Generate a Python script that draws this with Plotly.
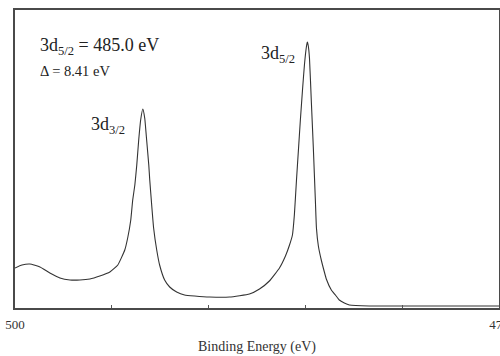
import plotly.graph_objects as go

# Binding energy (eV) and intensity (arb. units)
energy = [500.00, 499.64, 499.23, 498.71, 498.20, 497.68, 497.16, 496.65, 496.13, 495.62,
          495.10, 494.69, 494.33, 494.18, 494.02, 493.92, 493.81, 493.71, 493.61, 493.51,
          493.40, 493.30, 493.20, 493.09, 493.04, 492.94, 492.84, 492.68, 492.53, 492.27,
          492.01, 491.65, 491.24, 490.72, 489.95, 488.92, 487.89, 487.37, 486.86, 486.34,
          486.03, 485.82, 485.67, 485.57, 485.46, 485.36, 485.26, 485.15, 485.05, 484.95,
          484.90, 484.85, 484.79, 484.69, 484.59, 484.54, 484.48, 484.43, 484.33, 484.18,
          484.02, 483.92, 483.66, 483.45, 483.25, 482.99, 482.73, 481.70, 480.15, 477.58,
          475.00]
intensity = [40, 43, 44, 41, 35, 30, 28, 28, 29, 32,
             36, 43, 58, 70, 88, 108, 123, 143, 168, 188,
             199, 190, 168, 143, 128, 103, 80, 58, 43, 28,
             21, 16, 13, 12, 11, 11, 14, 19, 27, 40,
             52, 63, 73, 93, 128, 158, 188, 218, 243, 261,
             266, 262, 250, 205, 160, 135, 105, 80, 62, 48,
             36, 29, 18, 13, 8, 5, 3, 2, 2, 2,
             2]

tick_vals = [500, 495, 490, 485, 480, 475]
tick_text = ["500", "", "", "", "", "475"]

serif = "Liberation Serif"
ink = "#333333"

fig = go.Figure()
fig.add_trace(go.Scatter(x=energy, y=intensity, mode="lines",
                         line=dict(color=ink, width=1.1, shape="spline", smoothing=0.4),
                         hoverinfo="skip", showlegend=False))

fig.update_layout(
    width=500, height=356,
    margin=dict(l=15, r=1, t=10, b=48, autoexpand=False),
    paper_bgcolor="white", plot_bgcolor="white",
    font=dict(family=serif, color=ink),
    xaxis=dict(range=[500, 475], tickvals=tick_vals, ticktext=tick_text,
               ticks="inside", ticklen=3, tickcolor="#555555",
               ticklabeloverflow="allow", automargin=False, ticklabelstandoff=4,
               showline=True, linecolor="#4a4a4a", linewidth=1.6, mirror=True,
               showgrid=False, zeroline=False,
               tickfont=dict(family=serif, size=13, color=ink),
               title=dict(text="Binding Energy (eV)", font=dict(family=serif, size=14, color=ink),
                          standoff=10)),
    yaxis=dict(range=[0, 298], showticklabels=False, ticks="", automargin=False,
               showline=True, linecolor="#4a4a4a", linewidth=1.6, mirror=True,
               showgrid=False, zeroline=False),
)

ann_font_big = dict(family=serif, size=18, color="#222222")
ann_font_small = dict(family=serif, size=14.5, color="#222222")
fig.add_annotation(text="3d<sub>5/2</sub> = 485.0 eV", xref="paper", yref="paper",
                   x=(38 - 15) / 484, y=(308 - 47) / 298, xanchor="left", yanchor="middle",
                   showarrow=False, font=ann_font_big)
fig.add_annotation(text="Δ = 8.41 eV", xref="paper", yref="paper",
                   x=(38 - 15) / 484, y=(308 - 71) / 298, xanchor="left", yanchor="middle",
                   showarrow=False, font=ann_font_small)
fig.add_annotation(text="3d<sub>3/2</sub>", xref="paper", yref="paper",
                   x=(89 - 15) / 484, y=(308 - 125) / 298, xanchor="left", yanchor="middle",
                   showarrow=False, font=ann_font_big)
fig.add_annotation(text="3d<sub>5/2</sub>", xref="paper", yref="paper",
                   x=(259 - 15) / 484, y=(308 - 55) / 298, xanchor="left", yanchor="middle",
                   showarrow=False, font=ann_font_big)

fig.write_html("out.html")
